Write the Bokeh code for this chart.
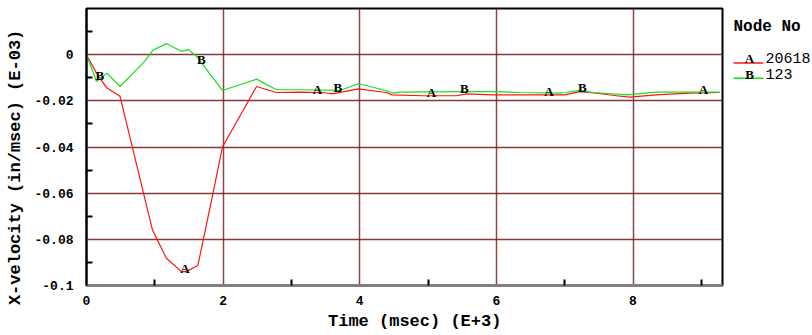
import numpy as np
from bokeh.plotting import figure
from bokeh.layouts import row
from bokeh.models import Range1d, FixedTicker, CustomJSTickFormatter, ColumnDataSource
from bokeh.core.properties import value
from bokeh.embed import file_html
from bokeh.resources import INLINE

# ---- data (time in msec E+3, velocity in in/msec E-03) ----
t_a = [0, 0.146, 0.29, 0.49, 0.966, 1.17, 1.39, 1.46, 1.63, 1.85, 1.99, 2.49, 2.78, 3.15, 3.50, 3.60,
       3.98, 4.39, 4.47, 4.93, 5.42, 5.56, 5.95, 6.64, 7.00, 7.22, 7.37, 7.76, 7.95, 8.34, 8.83, 9.27]
v_a = [0, -0.0080, -0.0142, -0.0180, -0.0760, -0.0882, -0.0940, -0.0940, -0.0913, -0.0603, -0.0400,
       -0.0138, -0.0164, -0.0162, -0.0165, -0.0170, -0.0148, -0.0164, -0.0174, -0.0178, -0.0178,
       -0.0170, -0.0174, -0.0174, -0.0174, -0.0160, -0.0164, -0.0178, -0.0184, -0.0174, -0.0167, -0.0164]

t_b = [0, 0.146, 0.30, 0.49, 0.85, 0.97, 1.17, 1.39, 1.49, 1.61, 1.99, 2.49, 2.78, 3.15, 3.71, 3.98,
       4.34, 4.49, 4.59, 5.56, 5.95, 6.34, 6.93, 7.02, 7.22, 7.42, 7.91, 8.34, 8.83, 9.27]
v_b = [0, -0.0116, -0.0080, -0.0138, -0.0029, 0.0019, 0.0048, 0.0014, 0.0022, -0.0007, -0.0155,
       -0.0106, -0.0152, -0.0152, -0.0155, -0.0126, -0.0152, -0.0167, -0.0162, -0.0160, -0.0160,
       -0.0164, -0.0167, -0.0164, -0.0155, -0.0164, -0.0174, -0.0162, -0.0162, -0.0162]

mark_t_a = [1.44, 3.38, 5.05, 6.77, 9.03]
mark_t_b = [0.195, 1.68, 3.68, 5.53, 7.26]

x_ticks = [0, 2, 4, 6, 8]
x_minor = [1, 3, 5, 7, 9]
y_ticks = [-0.1, -0.08, -0.06, -0.04, -0.02, 0]
y_minor = [-0.09, -0.07, -0.05, -0.03, -0.01, 0.01]

legend_title = "Node No"
legend_letters = ["A", "B"]
legend_names = ["20618", "123"]
x_title = "Time (msec) (E+3)"
y_title = "X-velocity (in/msec)  (E-03)"

RED = "#ff1414"
GREEN = "#18e018"
GRID = "#7a2424"
MONO = "Liberation Mono"
SERIF = "Liberation Serif"

p = figure(width=724, height=335, output_backend="svg", toolbar_location=None,
           x_range=Range1d(0, 9.31), y_range=Range1d(-0.1, 0.02),
           min_border_left=86, min_border_right=2, min_border_top=8, min_border_bottom=50)
p.background_fill_color = "white"
p.border_fill_color = "white"
p.outline_line_color = "black"
p.outline_line_width = 2

# axes
p.xaxis.ticker = FixedTicker(ticks=x_ticks, minor_ticks=x_minor)
p.yaxis.ticker = FixedTicker(ticks=y_ticks, minor_ticks=y_minor)
p.yaxis.formatter = CustomJSTickFormatter(code="return tick == 0 ? '0' : String(parseFloat(tick.toFixed(2)));")
for ax in (p.xaxis, p.yaxis):
    ax.major_tick_in = 0
    ax.major_tick_out = 0
    ax.minor_tick_in = 6
    ax.minor_tick_out = 0
    ax.minor_tick_line_color = "black"
    ax.minor_tick_line_width = 2
    ax.major_label_text_font = MONO
    ax.major_label_text_font_style = "bold"
    ax.major_label_text_font_size = "13px"
    ax.major_label_text_color = "black"
    ax.axis_label_text_font = MONO
    ax.axis_label_text_font_style = "bold"
    ax.axis_label_text_font_size = "17px"
    ax.axis_label_text_color = "black"
p.xaxis.axis_line_color = "#808080"
p.xaxis.axis_line_width = 3
p.yaxis.axis_line_color = "black"
p.yaxis.axis_line_width = 2
p.xaxis.major_label_standoff = 10
p.yaxis.major_label_standoff = 13
p.xaxis.axis_label = "\u00a0\u00a0" + x_title
p.yaxis.axis_label = y_title + "\u00a0\u00a0\u00a0"
p.xaxis.axis_label_standoff = 4
p.yaxis.axis_label_standoff = 6

p.xgrid.grid_line_color = GRID
p.ygrid.grid_line_color = GRID
p.xgrid.grid_line_width = 1.5
p.ygrid.grid_line_width = 1.5
p.xgrid.grid_line_alpha = 0.85
p.ygrid.grid_line_alpha = 0.9

# series
p.line(t_a, v_a, line_color=RED, line_width=1.2)
p.line(t_b, v_b, line_color=GREEN, line_width=1.2)

# curve markers
src_a = ColumnDataSource(dict(x=mark_t_a, y=list(np.interp(mark_t_a, t_a, v_a)), t=["A"] * len(mark_t_a)))
src_b = ColumnDataSource(dict(x=mark_t_b, y=list(np.interp(mark_t_b, t_b, v_b)), t=["B"] * len(mark_t_b)))
for s in (src_a, src_b):
    p.text(x="x", y="y", text="t", source=s, text_align="center", text_baseline="middle",
           y_offset=-3, text_font=value(SERIF), text_font_style="bold", text_font_size="13px",
           text_color="black")

# legend panel (pixel-like coordinates, y downwards)
leg = figure(width=88, height=335, output_backend="svg", toolbar_location=None,
             x_range=Range1d(0, 88), y_range=Range1d(335, 0),
             x_axis_type=None, y_axis_type=None,
             min_border_left=0, min_border_right=0, min_border_top=0, min_border_bottom=0)
leg.outline_line_color = None
leg.grid.visible = False
leg.background_fill_color = "white"
leg.border_fill_color = "white"

leg.text(x=[9], y=[22.5], text=[legend_title], text_font=value(MONO), text_font_style="bold",
         text_font_size="16px", text_baseline="middle", text_color="black")
row_y = [60, 79.5]
leg.segment(x0=[9, 9], y0=[66, 84.5], x1=[39, 39], y1=[66, 84.5], line_color=[RED, GREEN], line_width=1.5)
leg.text(x=[25, 25], y=row_y, text=legend_letters, text_font=value(SERIF), text_font_style="bold",
         text_font_size="13px", text_align="center", text_baseline="middle", text_color="black")
leg.text(x=[41, 41], y=row_y, text=legend_names, text_font=value(MONO),
         text_font_size="15px", text_baseline="middle", text_color="black")

layout = row(p, leg, spacing=0)
open("out.html", "w").write(file_html(layout, INLINE))
